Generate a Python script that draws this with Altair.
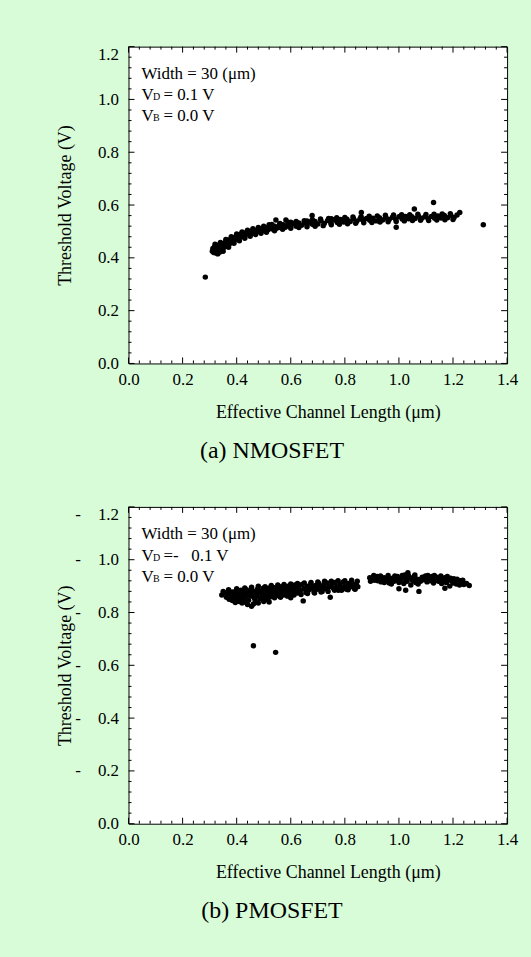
import altair as alt
import pandas as pd

FONT = "Liberation Serif"
BG = "#d8fcd8"
W, H = 380, 318

# ---------------- data ----------------
n_len = [0.310, 0.312, 0.315, 0.318, 0.320, 0.323, 0.325, 0.328, 0.330, 0.333,
         0.335, 0.338, 0.340, 0.343, 0.345, 0.348, 0.350, 0.353, 0.355, 0.358,
         0.360, 0.363, 0.366, 0.370, 0.373, 0.376, 0.380, 0.384, 0.388, 0.392,
         0.396, 0.400, 0.405, 0.410, 0.415, 0.420, 0.426, 0.432, 0.438, 0.444,
         0.450, 0.457, 0.464, 0.471, 0.478, 0.485, 0.492, 0.500, 0.508, 0.516,
         0.524, 0.532, 0.540, 0.548, 0.556, 0.564, 0.572, 0.580, 0.590, 0.600,
         0.610, 0.620, 0.630, 0.640, 0.650, 0.660, 0.670, 0.680, 0.690, 0.700,
         0.712, 0.724, 0.736, 0.748, 0.760, 0.772, 0.784, 0.796, 0.808, 0.820,
         0.832, 0.844, 0.856, 0.868, 0.880, 0.892, 0.904, 0.916, 0.928, 0.940,
         0.952, 0.964, 0.976, 0.988, 1.000, 1.012, 1.024, 1.036, 1.048, 1.060,
         1.072, 1.084, 1.096, 1.108, 1.120, 1.132, 1.144, 1.156, 1.168, 1.180,
         1.192, 1.204, 1.215, 1.225,
         0.520, 0.600, 0.660, 0.750, 0.860, 0.950, 1.030, 1.150, 0.440, 0.560,
         0.32, 0.34, 0.36, 0.38, 0.40, 0.42, 0.44, 0.46, 0.48, 0.50, 0.53, 0.56,
         0.59, 0.62, 0.65, 0.68, 0.71, 0.74, 0.77, 0.80, 0.83, 0.86, 0.89, 0.92,
         0.95, 0.98, 1.01, 1.04, 1.07, 1.10, 1.13, 1.16, 1.19,
         0.33, 0.35, 0.37, 0.39, 0.41, 0.43, 0.45, 0.47, 0.49, 0.51, 0.54, 0.57,
         0.60, 0.63, 0.66, 0.69, 0.72, 0.75, 0.78, 0.81, 0.84, 0.87, 0.90, 0.93,
         0.96, 0.99, 1.02, 1.05, 1.08, 1.11, 1.14, 1.17, 1.20,
         0.284, 1.312, 1.128, 1.057, 0.861, 0.990, 0.679, 0.545, 0.582]
n_vth = [0.425, 0.435, 0.420, 0.442, 0.428, 0.418, 0.438, 0.448, 0.425, 0.432,
         0.445, 0.422, 0.440, 0.452, 0.430, 0.446, 0.436, 0.455, 0.442, 0.450,
         0.462, 0.445, 0.458, 0.468, 0.452, 0.462, 0.472, 0.460, 0.475, 0.468,
         0.480, 0.472, 0.486, 0.476, 0.490, 0.482, 0.494, 0.486, 0.497, 0.490,
         0.500, 0.494, 0.503, 0.497, 0.507, 0.500, 0.510, 0.504, 0.514, 0.506,
         0.517, 0.509, 0.520, 0.512, 0.522, 0.514, 0.525, 0.516, 0.527, 0.518,
         0.530, 0.520, 0.532, 0.523, 0.534, 0.525, 0.536, 0.527, 0.538, 0.528,
         0.540, 0.530, 0.541, 0.532, 0.543, 0.534, 0.545, 0.536, 0.546, 0.538,
         0.548, 0.539, 0.547, 0.541, 0.549, 0.542, 0.550, 0.540, 0.552, 0.543,
         0.553, 0.545, 0.554, 0.546, 0.556, 0.547, 0.557, 0.548, 0.556, 0.549,
         0.558, 0.550, 0.556, 0.548, 0.557, 0.550, 0.559, 0.551, 0.560, 0.552,
         0.561, 0.553, 0.562, 0.572,
         0.525, 0.535, 0.540, 0.548, 0.553, 0.551, 0.553, 0.557, 0.500, 0.528,
         0.452, 0.458, 0.470, 0.480, 0.490, 0.498, 0.505, 0.510, 0.515, 0.520,
         0.526, 0.530, 0.535, 0.538, 0.541, 0.544, 0.547, 0.549, 0.552, 0.553,
         0.555, 0.556, 0.558, 0.559, 0.561, 0.562, 0.563, 0.563, 0.565, 0.564,
         0.565, 0.566, 0.567,
         0.415, 0.425, 0.440, 0.455, 0.465, 0.474, 0.482, 0.488, 0.493, 0.497,
         0.503, 0.508, 0.512, 0.515, 0.518, 0.520, 0.522, 0.525, 0.527, 0.529,
         0.531, 0.533, 0.534, 0.536, 0.537, 0.538, 0.540, 0.541, 0.542, 0.541,
         0.543, 0.544, 0.545,
         0.327, 0.525, 0.610, 0.585, 0.572, 0.516, 0.560, 0.543, 0.543]

p_len = [0.345, 0.360, 0.362, 0.368, 0.372, 0.375, 0.380, 0.384, 0.388, 0.392,
         0.396, 0.400, 0.404, 0.408, 0.412, 0.416, 0.420, 0.424, 0.428, 0.432,
         0.436, 0.440, 0.444, 0.448, 0.452, 0.456, 0.460, 0.462, 0.465, 0.470,
         0.474, 0.478, 0.482, 0.486, 0.490, 0.494, 0.498, 0.502, 0.506, 0.510,
         0.514, 0.518, 0.522, 0.526, 0.530, 0.535, 0.540, 0.545, 0.550, 0.555,
         0.560, 0.565, 0.570, 0.575, 0.580, 0.585, 0.590, 0.595, 0.600, 0.605,
         0.610, 0.615, 0.620, 0.625, 0.630, 0.636, 0.642, 0.646, 0.650, 0.656,
         0.662, 0.668, 0.674, 0.680, 0.686, 0.692, 0.698, 0.704, 0.710, 0.716,
         0.722, 0.728, 0.734, 0.740, 0.746, 0.752, 0.758, 0.764, 0.770, 0.776,
         0.782, 0.788, 0.794, 0.800, 0.806, 0.812, 0.818, 0.824, 0.830, 0.836,
         0.842, 0.848,
         0.420, 0.440, 0.455, 0.470, 0.520, 0.600,
         0.350, 0.370, 0.385, 0.400, 0.415, 0.430, 0.445, 0.455, 0.468, 0.480,
         0.492, 0.505, 0.515, 0.528, 0.540, 0.552, 0.562, 0.575, 0.588, 0.600,
         0.612, 0.625, 0.638, 0.650, 0.662, 0.675, 0.688, 0.700, 0.712, 0.725,
         0.738, 0.750, 0.762, 0.775, 0.788, 0.800, 0.812, 0.825, 0.838, 0.846,
         0.395, 0.410, 0.430, 0.480, 0.500,
         0.462, 0.544,
         0.892, 0.898, 0.904, 0.910, 0.916, 0.922, 0.928, 0.934, 0.940, 0.946,
         0.952, 0.958, 0.964, 0.970, 0.976, 0.982, 0.988, 0.994, 1.000, 1.006,
         1.012, 1.018, 1.024, 1.030, 1.033, 1.038, 1.044, 1.050, 1.056, 1.062,
         1.068, 1.074, 1.080, 1.086, 1.092, 1.098, 1.104, 1.110, 1.116, 1.122,
         1.128, 1.134, 1.140, 1.146, 1.152, 1.158, 1.164, 1.170, 1.176, 1.182,
         1.188, 1.194, 1.200, 1.206, 1.212, 1.218, 1.224, 1.232, 1.240, 1.260,
         1.025, 1.000, 1.170,
         0.895, 0.907, 0.920, 0.932, 0.945, 0.960, 0.972, 0.985, 0.998, 1.010,
         1.021, 1.035, 1.047, 1.059, 1.071, 1.083, 1.095, 1.107, 1.119, 1.131,
         1.143, 1.155, 1.167, 1.179, 1.191, 1.203, 1.215, 1.227, 1.236, 1.250]
p_vth = [0.866, 0.874, 0.858, 0.866, 0.850, 0.878, 0.862, 0.845, 0.870, 0.856,
         0.880, 0.864, 0.848, 0.872, 0.858, 0.884, 0.866, 0.850, 0.876, 0.860,
         0.886, 0.870, 0.846, 0.878, 0.862, 0.888, 0.872, 0.832, 0.856, 0.880,
         0.864, 0.890, 0.874, 0.852, 0.882, 0.866, 0.892, 0.876, 0.858, 0.884,
         0.868, 0.892, 0.878, 0.860, 0.886, 0.870, 0.894, 0.880, 0.864, 0.890,
         0.874, 0.898, 0.882, 0.866, 0.892, 0.878, 0.900, 0.886, 0.870, 0.896,
         0.882, 0.904, 0.888, 0.874, 0.898, 0.884, 0.906, 0.844, 0.890, 0.876,
         0.900, 0.886, 0.908, 0.892, 0.878, 0.902, 0.888, 0.910, 0.894, 0.880,
         0.904, 0.890, 0.912, 0.896, 0.858, 0.906, 0.892, 0.914, 0.898, 0.884,
         0.908, 0.894, 0.916, 0.900, 0.888, 0.910, 0.896, 0.914, 0.902, 0.890,
         0.908, 0.898,
         0.836, 0.830, 0.824, 0.838, 0.840, 0.856,
         0.880, 0.886, 0.878, 0.890, 0.872, 0.893, 0.866, 0.896, 0.848, 0.900,
         0.856, 0.898, 0.848, 0.902, 0.856, 0.904, 0.858, 0.906, 0.862, 0.908,
         0.866, 0.910, 0.868, 0.912, 0.872, 0.914, 0.874, 0.916, 0.878, 0.918,
         0.880, 0.918, 0.884, 0.920, 0.884, 0.920, 0.886, 0.922, 0.888, 0.918,
         0.838, 0.842, 0.840, 0.836, 0.842,
         0.674, 0.649,
         0.932, 0.926, 0.934, 0.922, 0.930, 0.920, 0.928, 0.916, 0.926, 0.914,
         0.924, 0.932, 0.912, 0.922, 0.930, 0.918, 0.926, 0.936, 0.914, 0.924,
         0.940, 0.910, 0.928, 0.918, 0.951, 0.932, 0.904, 0.922, 0.936, 0.914,
         0.926, 0.880, 0.918, 0.934, 0.924, 0.938, 0.916, 0.930, 0.920, 0.936,
         0.912, 0.926, 0.934, 0.918, 0.928, 0.910, 0.924, 0.932, 0.914, 0.926,
         0.900, 0.920, 0.912, 0.924, 0.908, 0.918, 0.904, 0.914, 0.906, 0.902,
         0.884, 0.890, 0.892,
         0.918, 0.940, 0.936, 0.938, 0.932, 0.940, 0.908, 0.938, 0.928, 0.930,
         0.942, 0.940, 0.930, 0.942, 0.908, 0.926, 0.930, 0.940, 0.928, 0.940,
         0.926, 0.938, 0.916, 0.936, 0.930, 0.928, 0.926, 0.920, 0.922, 0.910]

x_major = [0.0, 0.2, 0.4, 0.6, 0.8, 1.0, 1.2, 1.4]
y_major = [0.0, 0.2, 0.4, 0.6, 0.8, 1.0, 1.2]
x_minor = [round(m + 0.04 * k, 2) for m in x_major[:-1] for k in range(1, 5)]
y_minor = [round(m + 0.04 * k, 2) for m in y_major[:-1] for k in range(1, 5)]

captions = ["(a) NMOSFET", "(b) PMOSFET"]
width_text = "Width = 30 (\u03bcm)"
vd_texts = ["= 0.1 V", "=-\u2002\u00a00.1 V"]
vb_text = "= 0.0 V"
x_title = "Effective Channel Length (\u03bcm)"
y_title = "Threshold Voltage (V)"


def text_layer(s, x, y, size, align="left", baseline="alphabetic"):
    return alt.Chart(pd.DataFrame({"t": [s]})).mark_text(
        font=FONT, fontSize=size, color="black", align=align, baseline=baseline
    ).encode(text="t:N", x=alt.value(x), y=alt.value(y))


def panel(xs, ys, caption, vd_text, dashed):
    xsc = alt.Scale(domain=[0, 1.4], nice=False, zero=False)
    ysc = alt.Scale(domain=[0, 1.2], nice=False, zero=False)
    if dashed:
        ylab = "datum.value < 0.01 ? '0.0' : '-\u2003' + format(datum.value, '.1f')"
    else:
        ylab = "format(datum.value, '.1f')"

    xaxis = alt.Axis(
        values=x_major, format=".1f", domain=False, ticks=False, tickSize=0,
        grid=False, labelFont=FONT, labelFontSize=17, labelColor="black",
        labelPadding=8, labelOverlap=False, labelFlush=False,
        titleFont=FONT, titleFontSize=18, titleFontWeight="normal",
        titleColor="black", titleX=200, titleY=54,
        titleBaseline="alphabetic", titleAlign="center")
    yaxis = alt.Axis(
        values=y_major, labelExpr=ylab, domain=False, ticks=False, tickSize=0,
        grid=False, labelFont=FONT, labelFontSize=17, labelColor="black",
        labelPadding=10, labelOverlap=False, labelFlush=False,
        labelBaseline={"condition": {"test": "datum.value > 1.1", "value": "top"},
                       "value": "middle"},
        titleFont=FONT, titleFontSize=18, titleFontWeight="normal",
        titleColor="black", titleX=-63, titleY=H / 2, titleAngle=270,
        titleBaseline="middle", titleAlign="center")

    def xe(f):
        return alt.X(f, type="quantitative", scale=xsc, title=x_title, axis=xaxis)

    def ye(f):
        return alt.Y(f, type="quantitative", scale=ysc, title=y_title, axis=yaxis)

    pts = alt.Chart(pd.DataFrame({"L": xs, "V": ys})).mark_circle(
        size=30, color="black", opacity=1
    ).encode(x=xe("L"), y=ye("V"))

    layers = [pts]
    for vals, ln in ((x_major, 6), (x_minor, 3)):
        d = pd.DataFrame({"v": vals})
        layers.append(alt.Chart(d).mark_rule(color="black", strokeWidth=1).encode(
            x=xe("v"), y=alt.value(H), y2=alt.value(H - ln)))
        layers.append(alt.Chart(d).mark_rule(color="black", strokeWidth=1).encode(
            x=xe("v"), y=alt.value(0), y2=alt.value(ln)))
    for vals, ln in ((y_major, 6), (y_minor, 3)):
        d = pd.DataFrame({"v": vals})
        layers.append(alt.Chart(d).mark_rule(color="black", strokeWidth=1).encode(
            y=ye("v"), x=alt.value(0), x2=alt.value(ln)))
        layers.append(alt.Chart(d).mark_rule(color="black", strokeWidth=1).encode(
            y=ye("v"), x=alt.value(W), x2=alt.value(W - ln)))

    layers += [
        text_layer(width_text, 13, 32, 17),
        text_layer("V", 13, 54, 17),
        text_layer("D", 24.5, 54, 10),
        text_layer(vd_text, 35, 54, 17),
        text_layer("V", 13, 75, 17),
        text_layer("B", 24.5, 75, 10),
        text_layer(vb_text, 35, 75, 17),
        text_layer(caption, 144, H + 95, 24, align="center"),
    ]
    return alt.layer(*layers).properties(width=W, height=H)


top = panel(n_len, n_vth, captions[0], vd_texts[0], False)
bottom = panel(p_len, p_vth, captions[1], vd_texts[1], True)

chart = alt.vconcat(top, bottom, spacing=41).configure(
    background=BG,
    padding={"left": 56, "top": 43, "right": 12, "bottom": 36},
).configure_view(stroke="black", strokeWidth=1, fill="white")

chart.save("out.html", embed_options={"renderer": "svg", "actions": False})
